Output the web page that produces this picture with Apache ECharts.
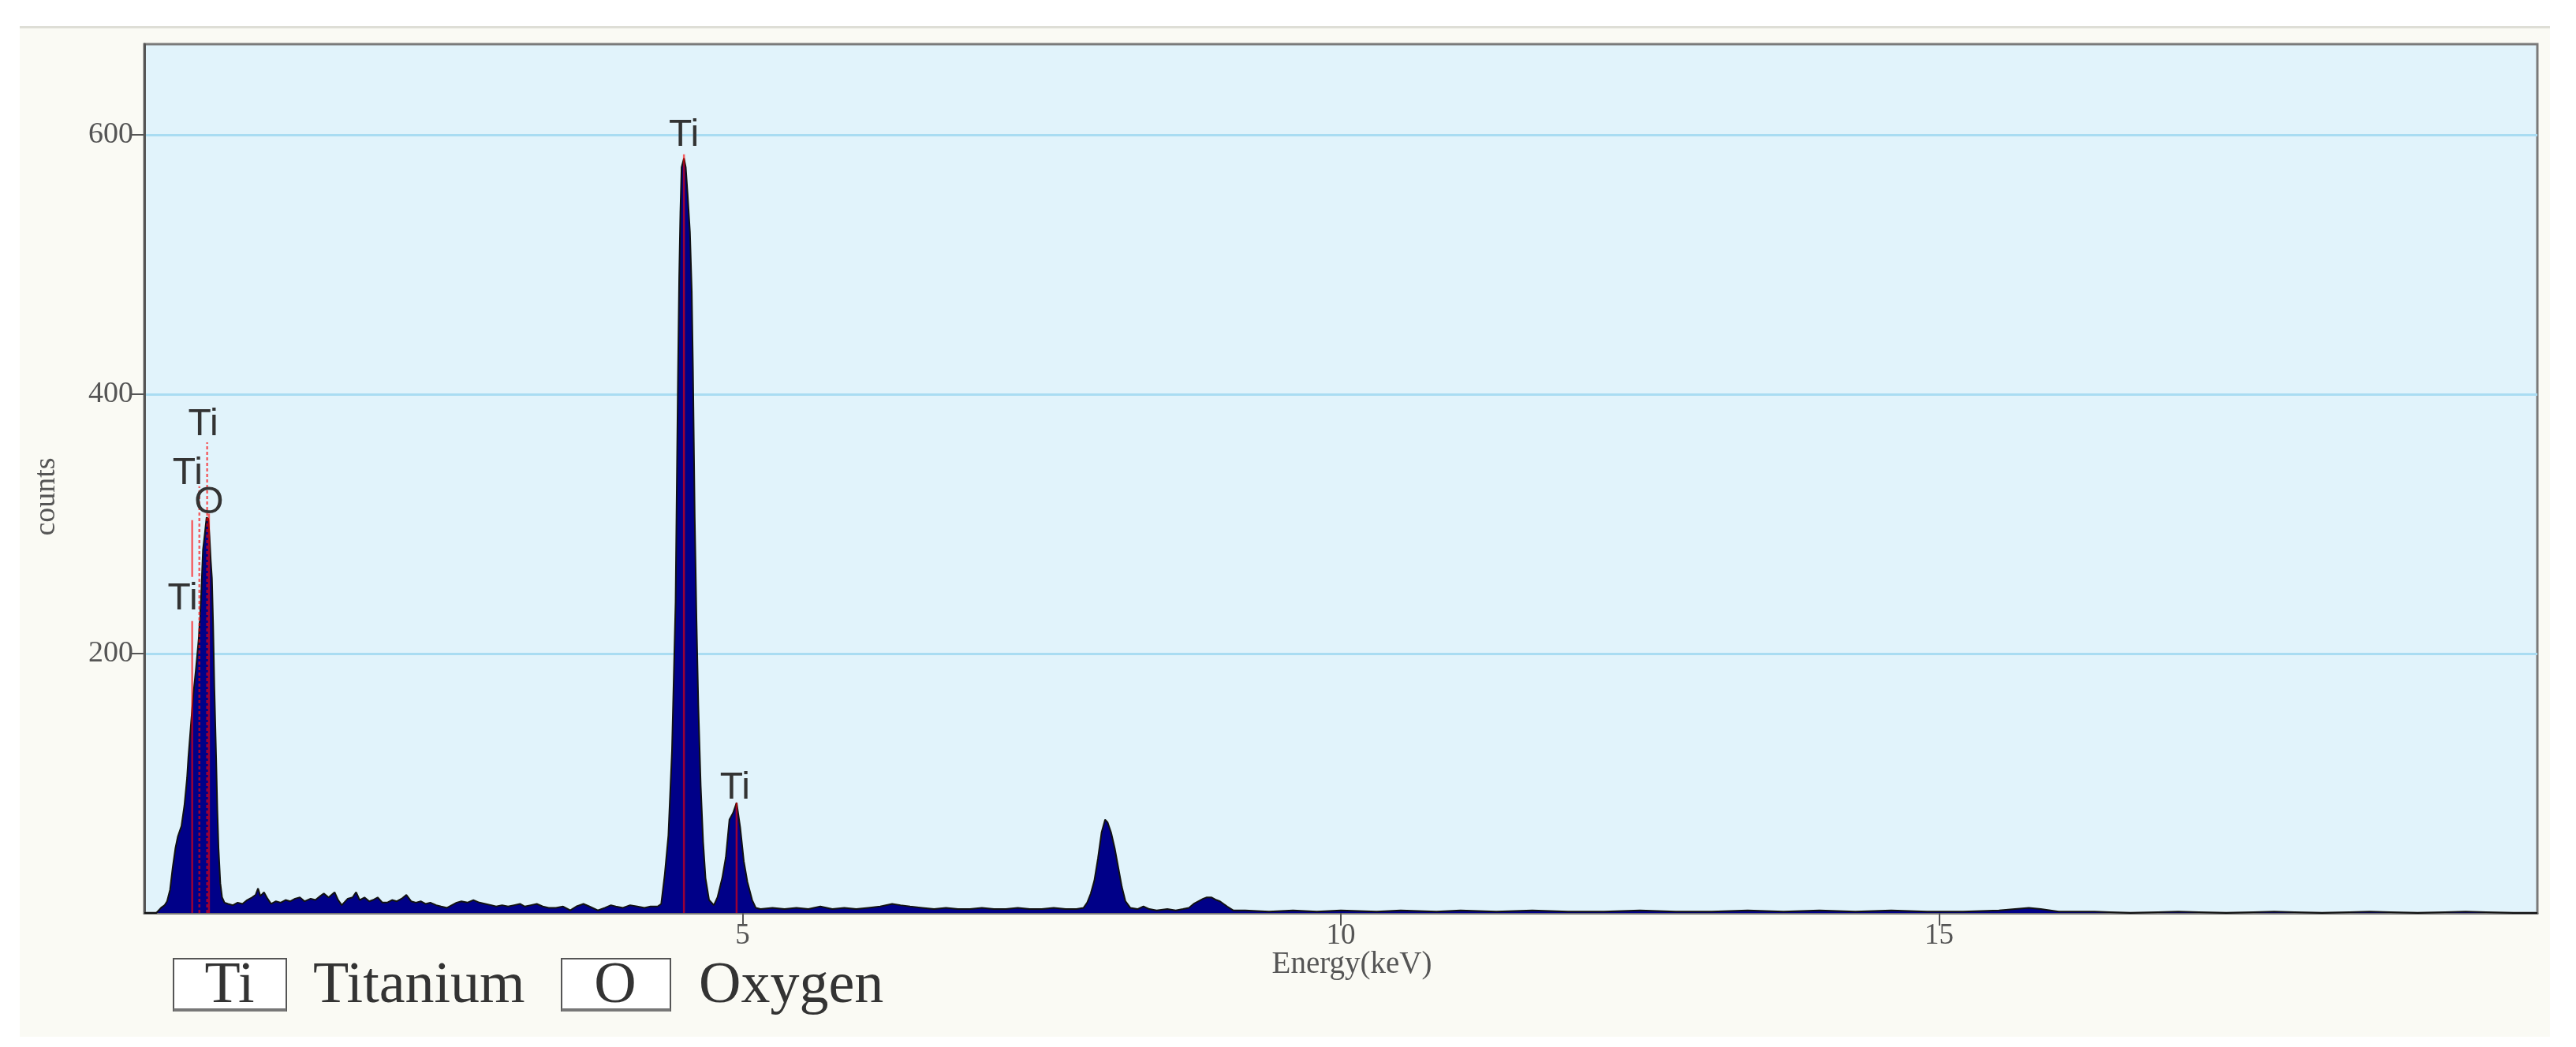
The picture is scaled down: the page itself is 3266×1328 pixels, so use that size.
<!DOCTYPE html>
<html>
<head>
<meta charset="utf-8">
<script src="https://cdn.jsdelivr.net/npm/echarts@6/dist/echarts.min.js"></script>
<style>
  html, body { margin: 0; padding: 0; background: #ffffff; }
  #chart { width: 3266px; height: 1328px; }
</style>
</head>
<body>
<div id="chart"></div>
<script>
// spectrum: energy (keV) and counts
const energy = [
  0.00, 0.10, 0.12, 0.14, 0.17, 0.19, 0.215, 0.237, 0.26, 0.28, 0.31, 0.335, 0.357, 0.368, 0.39, 0.41, 0.43, 0.455, 0.475, 0.49,
  0.505, 0.52, 0.535, 0.545, 0.555, 0.565, 0.575, 0.585, 0.60, 0.61, 0.62, 0.635, 0.65, 0.67, 0.70, 0.74, 0.78, 0.82, 0.86, 0.90,
  0.93, 0.95, 0.97, 1.00, 1.03, 1.06, 1.10, 1.14, 1.18, 1.22, 1.26, 1.30, 1.34, 1.39, 1.43, 1.47, 1.50, 1.54, 1.59, 1.62,
  1.65, 1.70, 1.74, 1.77, 1.80, 1.84, 1.88, 1.91, 1.95, 1.99, 2.03, 2.07, 2.11, 2.15, 2.19, 2.23, 2.27, 2.31, 2.35, 2.39,
  2.44, 2.48, 2.53, 2.57, 2.61, 2.65, 2.70, 2.75, 2.80, 2.85, 2.90, 2.94, 2.99, 3.04, 3.09, 3.14, 3.18, 3.23, 3.28, 3.33,
  3.38, 3.44, 3.50, 3.56, 3.61, 3.67, 3.72, 3.79, 3.85, 3.90, 3.94, 4.00, 4.06, 4.12, 4.18, 4.23, 4.29, 4.32, 4.35, 4.38,
  4.41, 4.44, 4.46, 4.47, 4.48, 4.49, 4.51, 4.525, 4.54, 4.56, 4.575, 4.585, 4.60, 4.615, 4.63, 4.65, 4.67, 4.69, 4.72, 4.76,
  4.79, 4.83, 4.86, 4.89, 4.92, 4.95, 4.98, 5.01, 5.04, 5.08, 5.11, 5.15, 5.25, 5.35, 5.45, 5.55, 5.65, 5.75, 5.85, 5.95,
  6.05, 6.15, 6.25, 6.32, 6.40, 6.50, 6.60, 6.70, 6.80, 6.90, 7.00, 7.10, 7.20, 7.30, 7.40, 7.50, 7.60, 7.70, 7.79, 7.85,
  7.88, 7.91, 7.94, 7.97, 8.00, 8.03, 8.05, 8.08, 8.11, 8.14, 8.17, 8.20, 8.24, 8.30, 8.35, 8.40, 8.46, 8.55, 8.62, 8.68,
  8.73, 8.77, 8.81, 8.85, 8.88, 8.92, 8.96, 8.99, 9.05, 9.10, 9.20, 9.40, 9.60, 9.80, 10.0, 10.3, 10.5, 10.8, 11.0, 11.3,
  11.6, 11.9, 12.2, 12.5, 12.8, 13.1, 13.4, 13.7, 14.0, 14.3, 14.6, 14.9, 15.2, 15.5, 15.75, 15.85, 16.0, 16.3, 16.6, 17.0,
  17.4, 17.8, 18.2, 18.6, 19.0, 19.4, 19.8, 20.0
];
const counts = [
  0, 0, 2, 4, 6, 9, 18, 35, 50, 59, 67, 83, 104, 120, 146, 169, 187, 212, 245, 280,
  292, 305, 304, 290, 272, 258, 222, 175, 120, 80, 50, 23, 12, 8, 7, 6, 8, 7, 10, 12,
  14, 19, 13, 16, 11, 7, 9, 8, 10, 9, 11, 12, 9, 11, 10, 13, 15, 12, 16, 10,
  6, 11, 12, 16, 10, 12, 9, 10, 12, 8, 8, 10, 9, 11, 14, 9, 8, 9, 7, 8,
  6, 5, 4, 6, 8, 9, 8, 10, 8, 7, 6, 5, 6, 5, 6, 7, 5, 6, 7, 5,
  4, 4, 5, 2, 5, 7, 5, 2, 4, 6, 5, 4, 6, 5, 4, 5, 5, 7, 30, 60,
  125, 240, 415, 490, 540, 575, 582, 575, 555, 525, 480, 420, 305, 225, 160, 98, 55, 27, 10, 6,
  12, 27, 43, 72, 77, 85, 66, 40, 24, 10, 4, 3, 4, 3, 4, 3, 5, 3, 4, 3,
  4, 5, 7, 6, 5, 4, 3, 4, 3, 3, 4, 3, 3, 4, 3, 3, 4, 3, 3, 4,
  8, 15, 25, 42, 62, 72, 70, 62, 50, 35, 20, 9, 4, 3, 5, 3, 2, 3, 2, 3,
  4, 7, 9, 11, 12, 12, 10, 9, 5, 2, 2, 1, 2, 1, 2, 1, 2, 1, 2, 1,
  2, 1, 1, 2, 1, 1, 2, 1, 2, 1, 2, 1, 1, 2, 4, 3, 1, 1, 0, 1,
  0, 1, 0, 1, 0, 1, 0, 0
];

// identified element lines
const lineEnergy = [0.40, 0.46, 0.525, 0.54, 4.51, 4.95];
const lineTop = [303, 329, 363, 308, 585, 85];
const lineLabel = ['Ti', 'Ti', 'Ti', 'O', 'Ti', 'Ti'];
const lineDashed = [false, true, true, false, false, false];

const yTicks = [200, 400, 600];
const xTicks = [5, 10, 15];

// label offsets from the line tops, in pixels
const labelOffsets = [[-12, 100], [-15, -16], [-5, -22], [0, -14], [0, -24], [-2, -18]];

const plotBg = '#e1f3fb';
const serif = '"Liberation Serif", "Times New Roman", serif';

const chart = echarts.init(document.getElementById('chart'));

const spectrum = energy.map((e, i) => [e, counts[i]]);
const markers = lineEnergy.map((e, i) => [e, lineTop[i], i]);

function renderMarker(params, api) {
  const i = params.dataIndex;
  const e = api.value(0);
  const top = api.value(1);
  const p0 = api.coord([e, 0]);
  const p1 = api.coord([e, top]);
  const off = labelOffsets[i];
  return {
    type: 'group',
    children: [
      {
        type: 'line',
        shape: { x1: p0[0], y1: p0[1], x2: p1[0], y2: p1[1] },
        style: {
          stroke: 'rgba(255,0,0,0.6)',
          lineWidth: 2.5,
          lineDash: lineDashed[i] ? [4, 3] : null
        }
      },
      {
        type: 'text',
        x: p1[0] + off[0],
        y: p1[1] + off[1],
        style: {
          text: lineLabel[i],
          font: '48px "Liberation Sans", Arial, sans-serif',
          fill: '#333',
          align: 'center',
          verticalAlign: 'middle',
          backgroundColor: i === 0 ? plotBg : null,
          padding: i === 0 ? [4, 2] : 0
        }
      }
    ]
  };
}

const option = {
  backgroundColor: '#ffffff',
  animation: false,
  grid: {
    left: 183,
    top: 56,
    right: 49,
    bottom: 170,
    show: true,
    backgroundColor: plotBg,
    borderColor: '#7a7a7a',
    borderWidth: 3
  },
  graphic: [
    {
      type: 'rect', z: -10, silent: true,
      shape: { x: 25, y: 33, width: 3208, height: 1282 },
      style: { fill: '#fafaf4' }
    },
    {
      type: 'rect', z: -9, silent: true,
      shape: { x: 25, y: 33, width: 3208, height: 3 },
      style: { fill: '#deded6' }
    },
    // legend: element symbol boxes and names
    {
      type: 'rect', silent: true,
      shape: { x: 220, y: 1216, width: 143, height: 66 },
      style: { fill: '#ffffff', stroke: '#555', lineWidth: 2 }
    },
    {
      type: 'rect', silent: true,
      shape: { x: 220, y: 1279, width: 143, height: 4 },
      style: { fill: '#777' }
    },
    {
      type: 'text', silent: true, x: 291, y: 1252,
      style: { text: 'Ti', font: '74px ' + serif, fill: '#333', align: 'center', verticalAlign: 'middle' }
    },
    {
      type: 'text', silent: true, x: 397, y: 1252,
      style: { text: 'Titanium', font: '74px ' + serif, fill: '#333', align: 'left', verticalAlign: 'middle' }
    },
    {
      type: 'rect', silent: true,
      shape: { x: 712, y: 1216, width: 138, height: 66 },
      style: { fill: '#ffffff', stroke: '#555', lineWidth: 2 }
    },
    {
      type: 'rect', silent: true,
      shape: { x: 712, y: 1279, width: 138, height: 4 },
      style: { fill: '#777' }
    },
    {
      type: 'text', silent: true, x: 780, y: 1252,
      style: { text: 'O', font: '74px ' + serif, fill: '#333', align: 'center', verticalAlign: 'middle' }
    },
    {
      type: 'text', silent: true, x: 886, y: 1252,
      style: { text: 'Oxygen', font: '74px ' + serif, fill: '#333', align: 'left', verticalAlign: 'middle' }
    }
  ],
  xAxis: {
    type: 'value',
    min: 0,
    max: 20,
    interval: 5,
    name: 'Energy(keV)',
    nameLocation: 'middle',
    nameGap: 46,
    nameMoveOverlap: false,
    nameTextStyle: { fontFamily: serif, fontSize: 39, color: '#555', padding: [0, 0, 0, 28] },
    axisLine: { show: true, onZero: false, lineStyle: { color: '#777', width: 3 } },
    axisTick: { show: true, customValues: xTicks, length: 16, lineStyle: { color: '#555', width: 2 } },
    axisLabel: { customValues: xTicks, fontFamily: serif, fontSize: 37, color: '#555', margin: 11 },
    splitLine: { show: false }
  },
  yAxis: {
    type: 'value',
    min: 0,
    max: 670,
    interval: 200,
    name: 'counts',
    nameLocation: 'middle',
    nameRotate: 90,
    nameGap: 105,
    nameMoveOverlap: false,
    nameTextStyle: { fontFamily: serif, fontSize: 38, color: '#555', padding: [0, 46, 0, 0] },
    axisLine: { show: true, lineStyle: { color: '#555', width: 3 } },
    axisTick: { show: true, customValues: yTicks, length: 16, lineStyle: { color: '#555', width: 2 } },
    axisLabel: { customValues: yTicks, fontFamily: serif, fontSize: 38, color: '#555', margin: 14 },
    splitLine: { show: true, lineStyle: { color: '#a9dcf2', width: 3 } }
  },
  series: [
    {
      type: 'line',
      data: spectrum,
      z: 2,
      showSymbol: false,
      symbol: 'none',
      lineStyle: { color: '#111', width: 2 },
      areaStyle: { color: '#000088', opacity: 1 }
    },
    {
      type: 'custom',
      z: 5,
      data: markers,
      renderItem: renderMarker
    }
  ]
};

chart.setOption(option);
</script>
</body>
</html>
